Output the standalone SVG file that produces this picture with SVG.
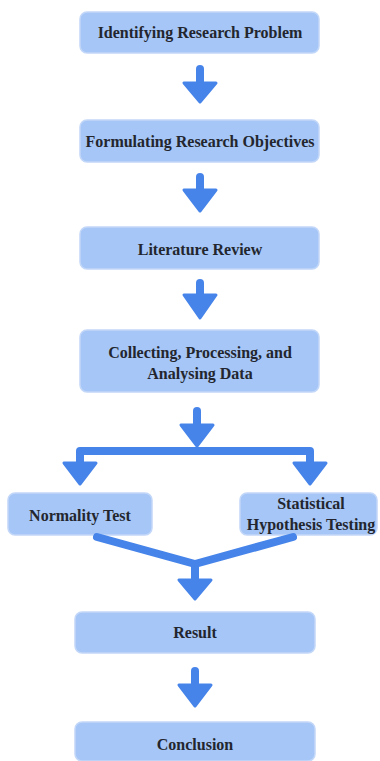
<svg xmlns="http://www.w3.org/2000/svg" width="380" height="761" viewBox="0 0 380 761">
<style>
.box{fill:#a6c6f7;stroke:#c3d7f8;stroke-width:1.5}
.t{font-family:'Liberation Serif','DejaVu Serif',serif;font-weight:bold;font-size:16px;fill:#23262e;text-anchor:middle}
.sh{stroke:#4684ea;stroke-width:8;stroke-linecap:round;fill:none}
.hd{fill:#4684ea;stroke:#4684ea;stroke-width:3;stroke-linejoin:round}
</style>
<rect width="380" height="761" fill="#ffffff"/>
<g id="n1"><rect class="box" x="80" y="12" width="239" height="41" rx="7"/><text class="t" x="200" y="38">Identifying Research Problem</text></g>
<g id="n2"><rect class="box" x="80" y="120" width="239" height="42" rx="7"/><text class="t" x="200" y="147">Formulating Research Objectives</text></g>
<g id="n3"><rect class="box" x="80" y="227" width="239" height="42" rx="7"/><text class="t" x="200" y="255">Literature Review</text></g>
<g id="n4"><rect class="box" x="80" y="330" width="239" height="62" rx="7"/><text class="t" x="200" y="358">Collecting, Processing, and</text><text class="t" x="200" y="379">Analysing Data</text></g>
<g id="n5"><rect class="box" x="8" y="493" width="144" height="42" rx="7"/><text class="t" x="80" y="521">Normality Test</text></g>
<g id="n6"><rect class="box" x="240" y="493" width="137" height="42" rx="7"/><text class="t" x="311" y="509">Statistical</text><text class="t" x="311" y="530">Hypothesis Testing</text></g>
<g id="n7"><rect class="box" x="75" y="612" width="240" height="41" rx="7"/><text class="t" x="195" y="638">Result</text></g>
<g id="n8"><rect class="box" x="75" y="722" width="240" height="39" rx="7"/><text class="t" x="195" y="750">Conclusion</text></g>
<g id="connectors">
<path class="sh" d="M200 69V85"/><path class="hd" d="M184 83H216L200 102Z"/>
<path class="sh" d="M200 177V192"/><path class="hd" d="M184 190H216L200 211Z"/>
<path class="sh" d="M200 283V297"/><path class="hd" d="M184 295H216L200 318Z"/>
<path class="sh" d="M197 411V427"/><path class="hd" d="M181 425H213L197 446Z"/>
<path class="sh" d="M80 465V451H310V465" stroke-linecap="butt" stroke-linejoin="round"/>
<path class="hd" d="M64 463H96L80 484Z"/><path class="hd" d="M294 463H326L310 484Z"/>
<path class="sh" d="M97 537L195 564L293 537" stroke-width="9" stroke-linecap="butt" stroke-linejoin="round"/>
<path class="sh" d="M195 564V582"/><path class="hd" d="M179 580H211L195 599Z"/>
<path class="sh" d="M195 671V687"/><path class="hd" d="M179 685H211L195 706Z"/>
</g>
</svg>
